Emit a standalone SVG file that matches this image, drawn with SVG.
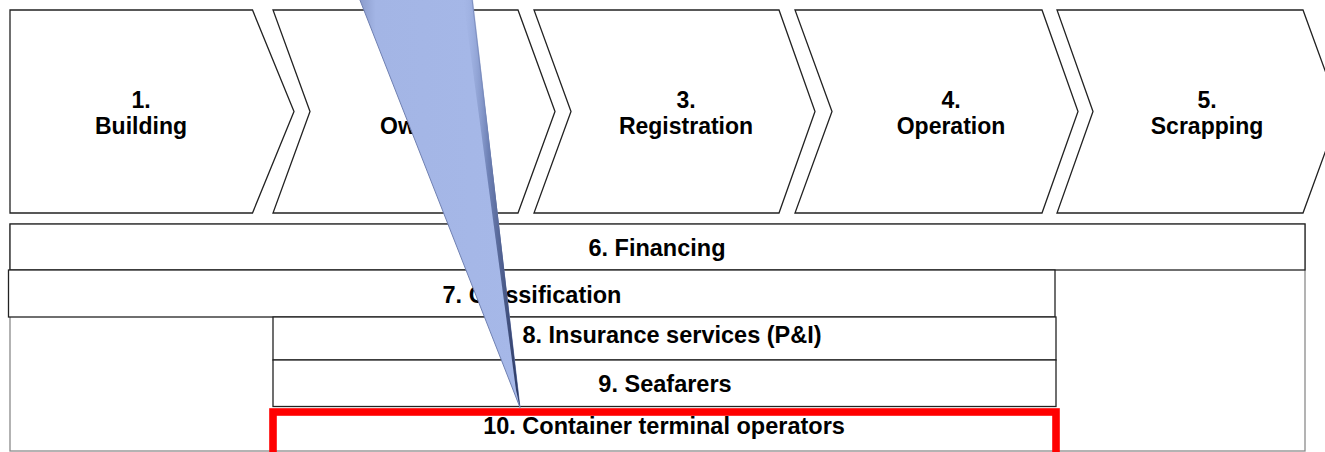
<svg xmlns="http://www.w3.org/2000/svg" width="1325" height="452" viewBox="0 0 1325 452">
<style>
.chev{fill:#fff;stroke:#222;stroke-width:1.3}
.row{fill:#fff;stroke:#222;stroke-width:1.3}
.t{font-family:"Liberation Sans",Arial,sans-serif;font-weight:bold;fill:#000;text-anchor:middle}
.ct{font-size:23px}
.rt{font-size:23.5px}
</style>
<defs>
<linearGradient id="edge" x1="0" y1="0" x2="1" y2="0">
<stop offset="0" stop-color="#a3b5e5" stop-opacity="0"/>
<stop offset="0.45" stop-color="#6f82b6"/>
<stop offset="1" stop-color="#27345e"/>
</linearGradient>
<linearGradient id="body" x1="0" y1="0" x2="1" y2="0">
<stop offset="0" stop-color="#8596c6"/>
<stop offset="0.12" stop-color="#a3b5e5"/>
<stop offset="1" stop-color="#a6b8e8"/>
</linearGradient>
</defs>
<rect width="1325" height="452" fill="#fff"/>
<g id="chevron1">
<polygon class="chev" points="10,10 252.5,10 294,111.5 252.5,213 10,213" stroke="#444"/>
<text class="t ct" x="141" y="107.5">1.</text>
<text class="t ct" x="141" y="133.5">Building</text>
</g>
<g id="chevron2">
<polygon class="chev" points="273,10 518,10 555,111.5 518,213 273,213 310,111.5"/>
<text class="t ct" x="380" y="133.5" style="text-anchor:start">Ow</text>
</g>
<g id="chevron3">
<polygon class="chev" points="534,10 779,10 815,111.5 779,213 534,213 571,111.5"/>
<text class="t ct" x="686" y="107.5">3.</text>
<text class="t ct" x="686" y="133.5">Registration</text>
</g>
<g id="chevron4">
<polygon class="chev" points="795,10 1042,10 1078,111.5 1042,213 795,213 832,111.5"/>
<text class="t ct" x="951" y="107.5">4.</text>
<text class="t ct" x="951" y="133.5">Operation</text>
</g>
<g id="chevron5">
<polygon class="chev" points="1057,10 1303,10 1340,111.5 1303,213 1057,213 1093,111.5"/>
<text class="t ct" x="1207" y="107.5">5.</text>
<text class="t ct" x="1207" y="133.5">Scrapping</text>
</g>
<g id="frame">
<rect x="10" y="224" width="1295" height="227" fill="#fff" stroke="#8a8a8a" stroke-width="1.3"/>
</g>
<g id="financing">
<rect class="row" x="10" y="224" width="1295" height="46" stroke="#555" stroke-width="1.6"/>
<text class="t rt" x="657" y="256">6. Financing</text>
</g>
<g id="classification">
<rect class="row" x="8.5" y="270" width="1046.5" height="47"/>
<text class="t rt" x="532" y="302.5">7. Classification</text>
</g>
<g id="insurance">
<rect class="row" x="273" y="317" width="783" height="43" stroke="#333"/>
<text class="t rt" x="672" y="343">8. Insurance services (P&amp;I)</text>
</g>
<g id="seafarers">
<rect class="row" x="273" y="360" width="783" height="46.5" stroke="#333"/>
<text class="t rt" x="665" y="391.5">9. Seafarers</text>
</g>
<g id="terminal">
<rect x="273" y="412" width="783" height="50" fill="none" stroke="#ff0000" stroke-width="7.6"/>
<text class="t rt" x="664" y="433.5">10. Container terminal operators</text>
</g>
<g id="connectors">
<g id="callout">
<polygon points="356,-10 471,-10 520,407.5" fill="url(#body)" stroke="#6f80b2" stroke-width="1"/>
<polygon points="462,-10 472,-10 520,407.5 516,390" fill="url(#edge)"/>
</g>
</g>
</svg>
